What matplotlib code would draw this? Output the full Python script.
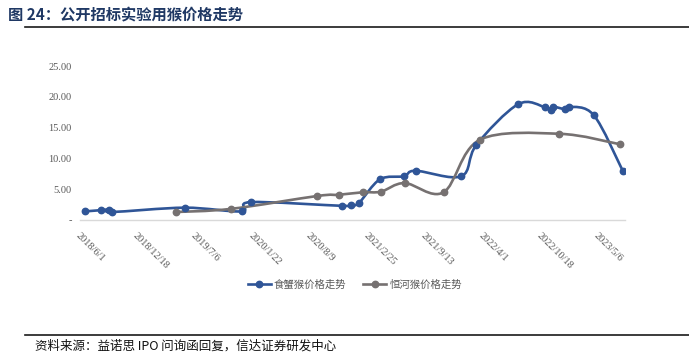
import matplotlib
matplotlib.use("Agg")
import matplotlib.pyplot as plt
import matplotlib.dates as mdates
from matplotlib.path import Path
from matplotlib.patches import PathPatch
from matplotlib.lines import Line2D
import numpy as np
import pandas as pd

# 食蟹猴价格 (万元/只)
cyno_dates = ["2018-06-18", "2018-08-13", "2018-09-09", "2018-09-20", "2019-05-30",
              "2019-12-13", "2020-01-13", "2020-11-26", "2020-12-27", "2021-01-24",
              "2021-04-06", "2021-06-28", "2021-08-08", "2022-01-14", "2022-03-07",
              "2022-07-30", "2022-11-01", "2022-11-21", "2022-11-28", "2023-01-09",
              "2023-01-23", "2023-04-19", "2023-07-28"]
cyno_price = [1.4, 1.6, 1.7, 1.3, 2.0,
              1.4, 2.9, 2.3, 2.4, 2.8,
              6.6, 7.1, 8.0, 7.1, 12.2,
              18.8, 18.3, 17.9, 18.4, 18.0,
              18.4, 17.0, 8.0]

# 恒河猴价格
rhesus_dates = ["2019-04-29", "2019-11-05", "2020-09-01", "2020-11-15", "2021-02-06",
                "2021-04-10", "2021-07-01", "2021-11-13", "2022-03-18", "2022-12-19",
                "2023-07-18"]
rhesus_price = [1.3, 1.8, 3.9, 4.1, 4.5,
                4.6, 6.0, 4.5, 13.0, 14.0,
                12.3]

series_names = ["食蟹猴价格走势", "恒河猴价格走势"]
y_ticks = [0, 5, 10, 15, 20, 25]
y_labels = ["-", "5.00", "10.00", "15.00", "20.00", "25.00"]

BLUE = "#2F5597"
GRAY = "#767171"
TXT = "#595959"
CJK = ["Noto Sans CJK SC", "DejaVu Sans"]


def smooth_path(x, y):
    # Excel style smoothed line: cubic bezier segments through the points
    pts = np.column_stack([x, y])
    n = len(pts)
    verts = [pts[0]]
    codes = [Path.MOVETO]
    for i in range(n - 1):
        p0 = pts[max(i - 1, 0)]
        p1 = pts[i]
        p2 = pts[i + 1]
        p3 = pts[min(i + 2, n - 1)]
        c1 = p1 + (p2 - p0) / 6.0
        c2 = p2 - (p3 - p1) / 6.0
        verts += [c1, c2, p2]
        codes += [Path.CURVE4] * 3
    return Path(verts, codes)


fig = plt.figure(figsize=(6.89, 3.61), dpi=100)
ax = fig.add_axes([80 / 689, 1 - 220 / 361, 545 / 689, 154 / 361])

for dates, vals, color in [(cyno_dates, cyno_price, BLUE), (rhesus_dates, rhesus_price, GRAY)]:
    xd = mdates.date2num(pd.to_datetime(dates))
    patch = PathPatch(smooth_path(xd, np.array(vals)), fill=False, edgecolor=color,
                      linewidth=1.9, capstyle="round", joinstyle="round", zorder=3)
    ax.add_patch(patch)
    ax.plot(xd, vals, linestyle="none", marker="o", markersize=4.6, color=color, zorder=4)

start = pd.Timestamp("2018-06-01")
ax.set_xlim(mdates.date2num(start) - 1, mdates.date2num(pd.Timestamp("2023-08-05")))
ax.set_ylim(0, 25)

tick_dates = [start + pd.Timedelta(days=200 * i) for i in range(10)]
ax.set_xticks(mdates.date2num(tick_dates))
ax.set_xticklabels([f"{d.year}/{d.month}/{d.day}" for d in tick_dates],
                   rotation=-45, ha="left", va="top", rotation_mode="anchor",
                   fontsize=7.5, color=TXT, family="Liberation Serif")
ax.set_yticks(y_ticks)
ax.set_yticklabels(y_labels, fontsize=7.5, color=TXT, family="Liberation Serif")
ax.tick_params(axis="both", length=0)
ax.tick_params(axis="y", pad=6)
ax.tick_params(axis="x", pad=8)

for s in ["top", "right", "left"]:
    ax.spines[s].set_visible(False)
ax.spines["bottom"].set_color("#D9D9D9")
ax.spines["bottom"].set_linewidth(1.0)

handles = [Line2D([], [], color=BLUE, lw=1.9, marker="o", markersize=4.6),
           Line2D([], [], color=GRAY, lw=1.9, marker="o", markersize=4.6)]
fig.legend(handles, series_names, loc="center", bbox_to_anchor=(355 / 689, 1 - 285 / 361),
           ncol=2, frameon=False, prop={"family": CJK, "size": 7.5},
           labelcolor=TXT, handlelength=2.2, handletextpad=0.3, columnspacing=1.6)

# title and source
fig.text(8 / 689, 1 - 15 / 361, "图 24：公开招标实验用猴价格走势", family=CJK, fontsize=11,
         fontweight="bold", color="#1F3864", va="center")
fig.add_artist(Line2D([25 / 689, 1], [1 - 27 / 361] * 2, color="#1a1a1a", lw=1.2))
fig.add_artist(Line2D([25 / 689, 1], [1 - 335 / 361] * 2, color="#1a1a1a", lw=1.2))
fig.text(35 / 689, 1 - 346 / 361, "资料来源：益诺思 IPO 问询函回复，信达证券研发中心", family=CJK,
         fontsize=9, style="italic", color="#111111", va="center")

fig.savefig("out.png", dpi=100, facecolor="white")
